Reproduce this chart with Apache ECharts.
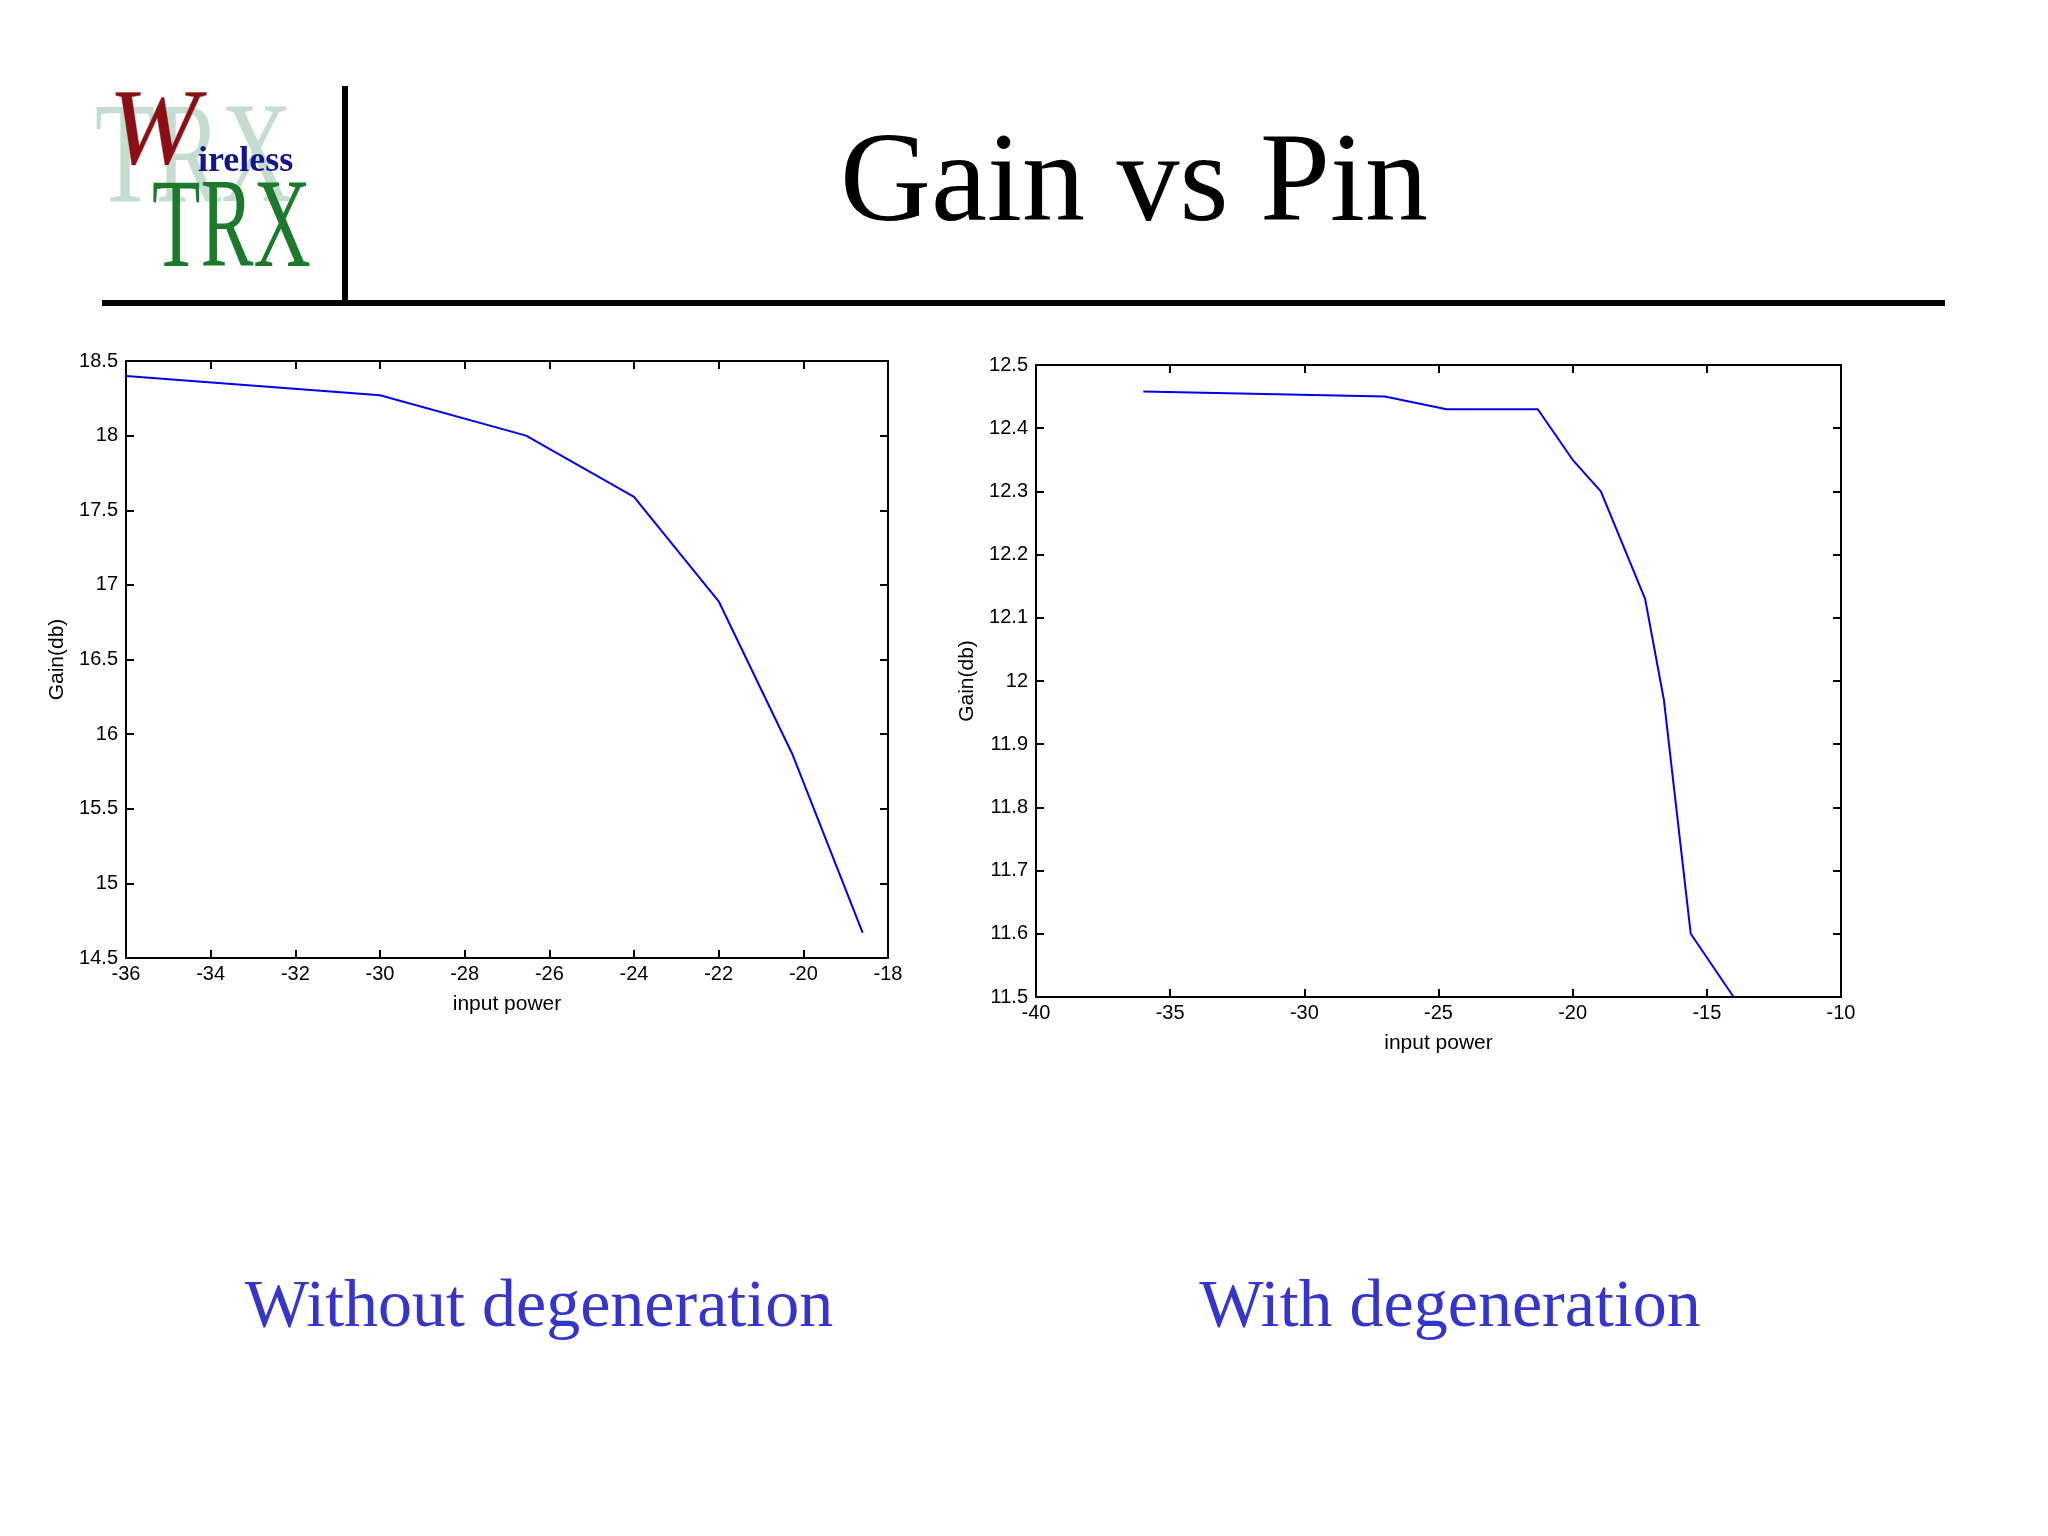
<!DOCTYPE html>
<html>
<head>
<meta charset="utf-8">
<script src="https://cdn.jsdelivr.net/npm/echarts@6/dist/echarts.min.js"></script>
<style>
html,body{margin:0;padding:0;background:#fff;}
#main{width:2048px;height:1536px;}
</style>
</head>
<body>
<div id="main"></div>
<script>
// without degeneration
var pinA = [-36, -30, -26.55, -24, -22, -20.25, -18.6];
var gainA = [18.40, 18.27, 18.0, 17.59, 16.89, 15.86, 14.67];
// with degeneration
var pinB = [-36, -27, -24.7, -21.3, -20, -18.95, -17.3, -16.6, -15.6, -14];
var gainB = [12.458, 12.45, 12.43, 12.43, 12.35, 12.30, 12.13, 11.97, 11.60, 11.50];

var pairs = function (xs, ys) { return xs.map(function (x, i) { return [x, ys[i]]; }); };

var lbl = {color: '#000', fontFamily: 'Liberation Sans', fontSize: 20};
function xAx(grid, min, max, step, pos) {
    return {
        type: 'value', gridIndex: grid, min: min, max: max, interval: step, position: pos,
        name: pos === 'bottom' ? 'input power' : '', nameLocation: 'middle', nameGap: 36,
        nameTextStyle: {color: '#000', fontFamily: 'Liberation Sans', fontSize: 21},
        axisLine: {show: true, onZero: false, lineStyle: {color: '#000', width: 2}},
        axisTick: {show: true, inside: true, length: 8, lineStyle: {color: '#000', width: 2}},
        axisLabel: pos === 'bottom' ? Object.assign({margin: 6}, lbl) : {show: false},
        splitLine: {show: false}
    };
}
function yAx(grid, min, max, step, pos) {
    return {
        type: 'value', gridIndex: grid, min: min, max: max, interval: step, position: pos,
        name: pos === 'left' ? 'Gain(db)' : '', nameLocation: 'middle', nameGap: 58,
        nameTextStyle: {color: '#000', fontFamily: 'Liberation Sans', fontSize: 21},
        axisLine: {show: true, onZero: false, lineStyle: {color: '#000', width: 2}},
        axisTick: {show: true, inside: true, length: 8, lineStyle: {color: '#000', width: 2}},
        axisLabel: pos === 'left' ? Object.assign({margin: 8, formatter: function (v) { return +v.toFixed(1); }}, lbl) : {show: false},
        splitLine: {show: false}
    };
}

var myChart = echarts.init(document.getElementById('main'));
myChart.setOption({
    backgroundColor: '#fff',
    animation: false,
    grid: [
        {left: 126, top: 361, width: 762, height: 597},
        {left: 1036, top: 365, width: 805, height: 632}
    ],
    xAxis: [
        xAx(0, -36, -18, 2, 'bottom'), xAx(0, -36, -18, 2, 'top'),
        xAx(1, -40, -10, 5, 'bottom'), xAx(1, -40, -10, 5, 'top')
    ],
    yAxis: [
        yAx(0, 14.5, 18.5, 0.5, 'left'), yAx(0, 14.5, 18.5, 0.5, 'right'),
        yAx(1, 11.5, 12.5, 0.1, 'left'), yAx(1, 11.5, 12.5, 0.1, 'right')
    ],
    series: [
        {type: 'line', xAxisIndex: 0, yAxisIndex: 0, data: pairs(pinA, gainA), showSymbol: false,
         lineStyle: {color: '#0000ee', width: 2}},
        {type: 'line', xAxisIndex: 2, yAxisIndex: 2, data: pairs(pinB, gainB), showSymbol: false,
         lineStyle: {color: '#0000ee', width: 2}}
    ],
    graphic: [
        // logo
        {type: 'text', left: 95, top: 90, scaleX: 0.68, style: {text: 'TRX', font: '145px "Liberation Serif"', fill: '#c5ddd0'}},
        {type: 'text', left: 108, top: 80, style: {text: 'W', font: 'italic 108px "Liberation Serif"', fill: '#8b0f14', stroke: '#c0b0b0', lineWidth: 1}},
        {type: 'text', left: 198, top: 144, style: {text: 'ireless', font: 'bold 36px "Liberation Serif"', fill: '#14148c'}},
        {type: 'text', left: 152, top: 168, scaleX: 0.62, style: {text: 'TRX', font: '128px "Liberation Serif"', fill: '#1d7a2c'}},
        // header rules
        {type: 'line', shape: {x1: 345, y1: 86, x2: 345, y2: 303}, style: {stroke: '#000', lineWidth: 6}},
        {type: 'line', shape: {x1: 102, y1: 303, x2: 1945, y2: 303}, style: {stroke: '#000', lineWidth: 6}},
        // titles
        {type: 'text', x: 1134, y: 250, style: {text: 'Gain vs Pin', font: '126px "Liberation Serif"', fill: '#000', textAlign: 'center', textVerticalAlign: 'bottom'}},
        {type: 'text', x: 539, y: 1342, style: {text: 'Without degeneration', font: '68px "Liberation Serif"', fill: '#3535cc', textAlign: 'center', textVerticalAlign: 'bottom'}},
        {type: 'text', x: 1450, y: 1342, style: {text: 'With degeneration', font: '68px "Liberation Serif"', fill: '#3535cc', textAlign: 'center', textVerticalAlign: 'bottom'}}
    ]
});
</script>
</body>
</html>
